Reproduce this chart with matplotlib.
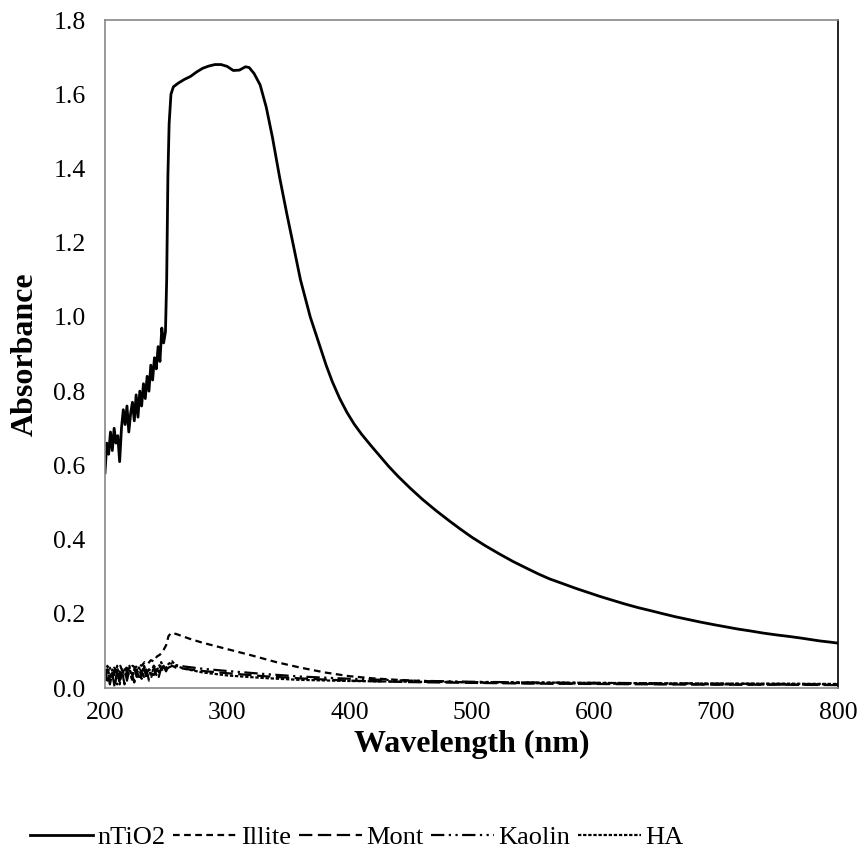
import numpy as np
import matplotlib
matplotlib.use("Agg")
import matplotlib.pyplot as plt

plt.rcParams["font.family"] = ["Liberation Serif", "DejaVu Serif"]

# nTiO2 spectrum
wl_tio2 = [200, 201.5, 203, 204.5, 206, 207.5, 209, 210.5, 212, 213.5, 215, 216.5, 218, 219.5,
           221, 222.5, 224, 225.5, 227, 228.5, 230, 231.5, 233, 234.5, 236, 237.5, 239, 240.5,
           242, 243.5, 245, 246.5, 248, 249.5, 250.5, 251.5, 252.5, 254, 256, 258, 260,
           265, 270, 275, 280, 285, 290, 295, 300, 305, 310, 315, 318, 322, 327, 332, 337,
           343, 349, 355, 360, 368, 376, 381, 386, 392, 398, 404, 410, 418, 425, 432, 440,
           450, 460, 471, 482, 491, 500, 511, 523, 534, 545, 555, 564, 575, 585, 595, 605,
           615, 625, 636, 646, 657, 667, 677, 687, 698, 708, 718, 728, 739, 750, 760, 769,
           777, 785, 793, 800]
abs_tio2 = [0.58, 0.66, 0.63, 0.69, 0.64, 0.70, 0.66, 0.68, 0.61, 0.70, 0.75, 0.71, 0.76, 0.69,
            0.74, 0.77, 0.72, 0.79, 0.73, 0.80, 0.76, 0.82, 0.78, 0.84, 0.80, 0.87, 0.83, 0.89,
            0.86, 0.92, 0.88, 0.97, 0.93, 0.96, 1.10, 1.38, 1.52, 1.60, 1.62, 1.625, 1.63,
            1.64, 1.648, 1.66, 1.67, 1.676, 1.68, 1.68, 1.675, 1.664, 1.665, 1.674, 1.672,
            1.656, 1.625, 1.565, 1.485, 1.375, 1.275, 1.18, 1.10, 1.00, 0.92, 0.87, 0.826,
            0.781, 0.743, 0.711, 0.684, 0.652, 0.625, 0.598, 0.57, 0.538, 0.508, 0.478, 0.45,
            0.428, 0.407, 0.384, 0.361, 0.341, 0.323, 0.307, 0.294, 0.281, 0.269, 0.258, 0.247,
            0.237, 0.227, 0.217, 0.209, 0.200, 0.192, 0.185, 0.178, 0.171, 0.165, 0.159, 0.154,
            0.148, 0.143, 0.139, 0.135, 0.131, 0.127, 0.124, 0.121]

# Illite
wl_illite = [200, 202.5, 205, 207.5, 210, 212.5, 215, 217.5, 220, 222.5, 225, 227.5, 230,
             232.5, 235, 237.5, 240, 242.5, 245, 247.5, 250, 252, 254, 258, 270, 280, 300,
             320, 340, 360, 380, 400, 420, 440, 460, 480, 500, 550, 600, 700, 800]
abs_illite = [0.04, 0.05, 0.03, 0.055, 0.045, 0.06, 0.04, 0.055, 0.05, 0.06, 0.055, 0.065,
              0.06, 0.07, 0.065, 0.075, 0.072, 0.085, 0.09, 0.10, 0.115, 0.14, 0.148, 0.146,
              0.132, 0.122, 0.105, 0.088, 0.07, 0.055, 0.042, 0.032, 0.026, 0.022, 0.019,
              0.017, 0.015, 0.013, 0.012, 0.010, 0.009]

# Mont, Kaolin, HA share the same wavelength grid
wl_low = [200, 202, 204, 206, 208, 210, 212, 214, 216, 218, 220, 222, 224, 226, 228, 230,
          232, 234, 236, 238, 240, 242, 244, 246, 248, 250, 252, 255, 258, 265, 280, 300,
          330, 360, 400, 450, 500, 550, 600, 650, 700, 750, 800]
abs_mont = [0.02, 0.05, 0.01, 0.04, 0.00, 0.05, 0.02, 0.045, 0.01, 0.05, 0.03, 0.04, 0.015,
            0.05, 0.02, 0.045, 0.03, 0.05, 0.02, 0.04, 0.035, 0.05, 0.03, 0.055, 0.04, 0.05,
            0.055, 0.06, 0.055, 0.052, 0.046, 0.040, 0.032, 0.026, 0.020, 0.016, 0.014,
            0.012, 0.011, 0.010, 0.009, 0.009, 0.008]
abs_kaolin = [0.05, 0.02, 0.055, 0.03, 0.05, 0.01, 0.045, 0.03, 0.055, 0.02, 0.05, 0.035,
              0.055, 0.03, 0.06, 0.04, 0.055, 0.025, 0.05, 0.045, 0.06, 0.035, 0.065, 0.05,
              0.06, 0.045, 0.06, 0.068, 0.062, 0.058, 0.052, 0.046, 0.038, 0.031, 0.025,
              0.020, 0.017, 0.015, 0.014, 0.013, 0.012, 0.011, 0.010]
abs_ha = [0.03, 0.06, 0.02, 0.05, 0.035, 0.06, 0.01, 0.05, 0.04, 0.03, 0.06, 0.02, 0.05,
          0.04, 0.055, 0.025, 0.06, 0.04, 0.05, 0.03, 0.06, 0.05, 0.04, 0.07, 0.05, 0.055,
          0.065, 0.072, 0.06, 0.052, 0.042, 0.034, 0.027, 0.022, 0.019, 0.017, 0.016,
          0.015, 0.014, 0.013, 0.012, 0.012, 0.011]

fig = plt.figure(figsize=(8.64, 8.59), dpi=100)
ax = fig.add_axes([0.1215, 0.199, 0.8485, 0.7777])

ax.plot(wl_tio2, abs_tio2, color="black", lw=2.0, label="nTiO2")
ax.plot(wl_illite, abs_illite, color="black", lw=1.6, linestyle=(0, (3, 2)), label="Illite")
ax.plot(wl_low, abs_mont, color="black", lw=1.6, linestyle=(0, (6, 2.5)), label="Mont")
ax.plot(wl_low, abs_kaolin, color="black", lw=1.6, linestyle=(0, (6, 2, 1, 2, 1, 2)), label="Kaolin")
ax.plot(wl_low, abs_ha, color="black", lw=1.6, linestyle=(0, (1.5, 0.8)), label="HA")

ax.set_xlim(200, 800)
ax.set_ylim(0, 1.8)
ax.set_xticks(np.arange(200, 801, 100))
ax.set_yticks(np.arange(0, 1.81, 0.2))
ax.set_yticklabels([f"{v:.1f}" for v in np.arange(0, 1.81, 0.2)])
ax.tick_params(length=0, labelsize=18.5)
ax.tick_params(axis="x", pad=10)
ax.tick_params(axis="y", pad=14)

for side in ["left", "bottom", "top"]:
    ax.spines[side].set_color("#888888")
    ax.spines[side].set_linewidth(1.2)
ax.spines["right"].set_color("black")
ax.spines["right"].set_linewidth(1.2)

ax.set_xlabel("Wavelength (nm)", fontsize=23, fontweight="bold", labelpad=4)
ax.set_ylabel("Absorbance", fontsize=23, fontweight="bold", labelpad=10)

fig.legend(loc="center", bbox_to_anchor=(0.413, 0.025), ncol=5, frameon=False,
           fontsize=19, handlelength=2.4, handletextpad=0.15, columnspacing=0.3)

fig.savefig("out.png", dpi=100)
